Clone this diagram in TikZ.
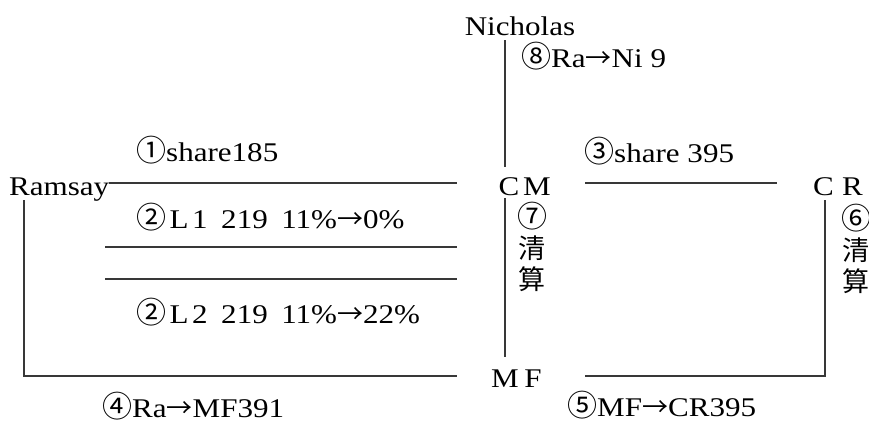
\documentclass[tikz,border=0pt]{standalone}
\usepackage{fontspec}
\setmainfont{Liberation Serif}[FakeStretch=1.15]
\newfontfamily\cjk{Noto Sans CJK JP}
\usetikzlibrary{calc}
\newcommand\cn[1]{{\cjk\fontsize{30}{31}\selectfont #1}}
\newcommand\ar{{\cjk\fontsize{26}{31}\selectfont →}}
\begin{document}
\begin{tikzpicture}[x=1pt,y=-1pt,
  lbl/.style={inner sep=0pt,font=\fontsize{27}{31}\selectfont},
  vlab/.style={inner sep=0pt,align=center,font=\cjk\fontsize{27}{31}\selectfont},
  ln/.style={draw=black!78,line width=1.3pt}]
\useasboundingbox (0,0) rectangle (869,423);
% texts
\node[lbl,anchor=base] (nich) at (520,35) {Nicholas};
\node[lbl,anchor=base west] (l8) at (521,67) {\cn{⑧}Ra\ar Ni 9};
\node[lbl,anchor=base west] (l1) at (136,161) {\cn{①}share185};
\node[lbl,anchor=base west] (ram) at (9,195) {Ramsay};
\node[lbl,anchor=base] (cm) at (523,195) {\makebox[28pt]{C}\makebox[28pt]{M}};
\node[lbl,anchor=base west] (l3) at (584,162) {\cn{③}share 395};
\node[lbl,anchor=base west] (cr) at (813,195) {\makebox[29pt][l]{C}R};
\node[vlab,anchor=north] (s7) at (532,202) {\cn{⑦}\\清\\算};
\node[vlab,anchor=north west] (s6) at (841,204) {\cn{⑥}\\清\\算};
\node[lbl,anchor=base west] (l2a) at (136,228) {\cn{②}\makebox[26pt]{L}1\enspace 219\enspace 11\%\ar 0\%};
\node[lbl,anchor=base west] (l2b) at (136,323) {\cn{②}\makebox[26pt]{L}2\enspace 219\enspace 11\%\ar 22\%};
\node[lbl,anchor=base] (mf) at (519,387) {\makebox[28pt]{M}\makebox[28pt]{F}};
\node[lbl,anchor=base west] (l4) at (102,417) {\cn{④}Ra\ar MF391};
\node[lbl,anchor=base west] (l5) at (567,416) {\cn{⑤}MF\ar CR395};
% coordinates
\coordinate (nA) at (505,40);
\coordinate (nB) at (505,167);
\coordinate (cmB) at (505,198);
\coordinate (mfT) at (505,357);
\coordinate (lA) at (457,183);
\coordinate (m1a) at (105,247);
\coordinate (m1b) at (457,247);
\coordinate (m2a) at (105,279);
\coordinate (m2b) at (457,279);
\coordinate (rb1) at (24,200);
\coordinate (rb2) at (24,376);
\coordinate (rb3) at (457,376);
\coordinate (ta) at (585,183);
\coordinate (tb) at (777,183);
\coordinate (cb1) at (825,200);
\coordinate (cb2) at (825,376);
\coordinate (cb3) at (585,376);
% connectors
\draw[ln] (nA) -- (nB);
\draw[ln] (cmB) -- (mfT);
\draw[ln] (ram.east |- lA) -- (lA);
\draw[ln] (m1a) -- (m1b);
\draw[ln] (m2a) -- (m2b);
\draw[ln] (rb1) -- (rb2) -- (rb3);
\draw[ln] (ta) -- (tb);
\draw[ln] (cb1) -- (cb2) -- (cb3);
\end{tikzpicture}
\end{document}
